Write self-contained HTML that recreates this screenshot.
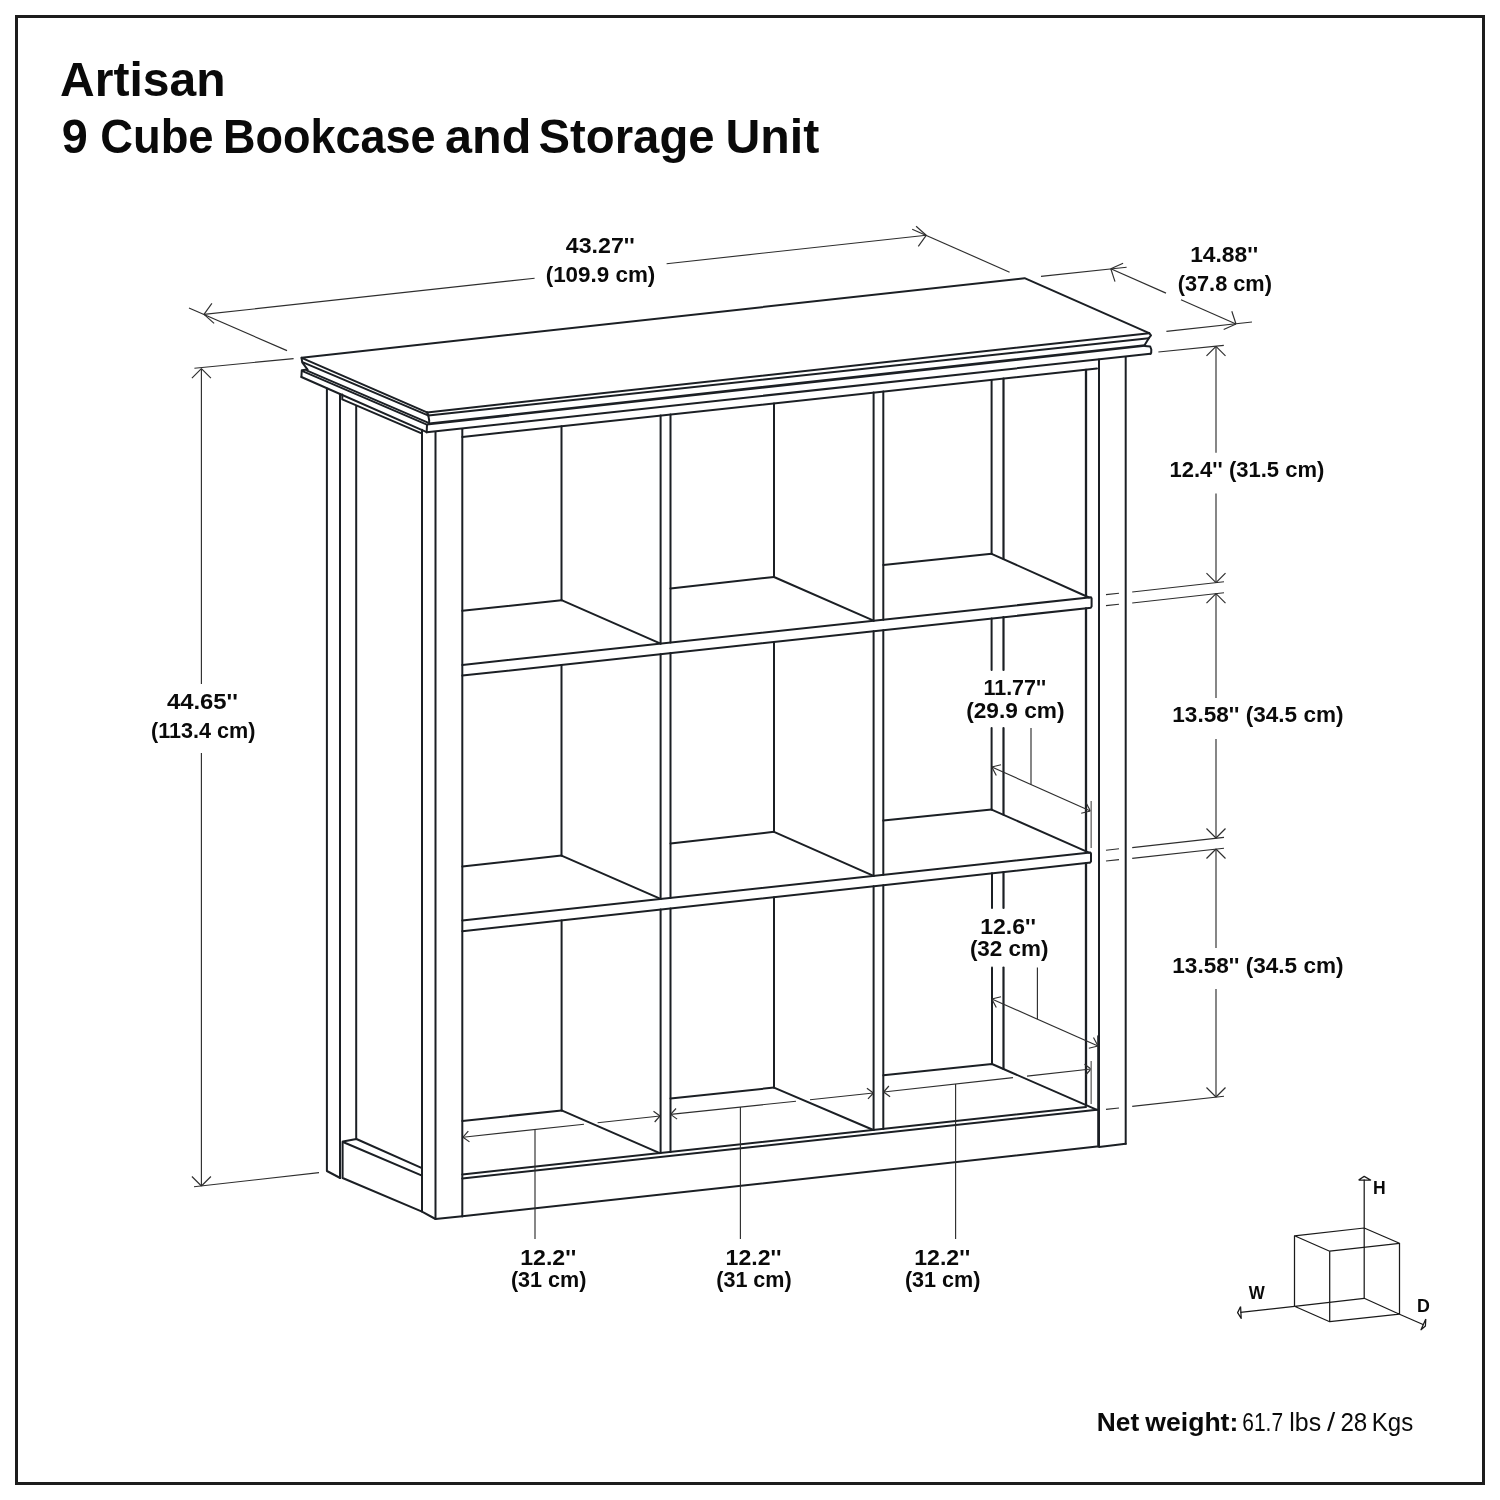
<!DOCTYPE html>
<html lang="en"><head><meta charset="utf-8"><title>Artisan 9 Cube Bookcase and Storage Unit</title>
<style>html,body{margin:0;padding:0;background:#fff}body{width:1500px;height:1500px;overflow:hidden}svg{display:block;will-change:transform}text{font-family:"Liberation Sans",Arial,sans-serif;fill:#0a0a0a}</style></head><body>
<svg width="1500" height="1500" viewBox="0 0 1500 1500">
<rect x="0" y="0" width="1500" height="1500" fill="#fff"/>
<rect x="16.5" y="16.5" width="1467" height="1467" fill="none" stroke="#1c1c1c" stroke-width="3"/>
<g fill="none" stroke="#1b1f24" stroke-width="2.0" stroke-linejoin="round" stroke-linecap="round">
<polyline points="427.0,412.4 301.6,357.8 1024.6,278.2 1149.2,333.2"/>
<polyline points="427.0,412.4 1149.2,333.2"/>
<polyline points="301.6,357.8 302.2,362.4 307.6,369.6"/>
<polyline points="307.2,369.6 301.8,370.2 301.4,377.0"/>
<polyline points="303.0,362.4 428.0,415.4"/>
<polyline points="306.5,370.4 427.4,422.4" stroke-width="1.8"/>
<polyline points="302.5,371.2 427.4,424.8" stroke-width="1.8"/>
<polyline points="301.4,377.0 426.7,432.2"/>
<polyline points="427.0,412.4 428.2,414.8 429.2,420.5 429.0,423.6 427.0,424.8 426.7,432.2"/>
<polyline points="428.3,415.5 1148.8,338.2"/>
<polyline points="429.0,423.9 1144.8,345.5" stroke-width="2.7"/>
<polyline points="426.7,432.2 1150.4,353.8"/>
<polyline points="1149.2,333.2 1151.0,335.4 1148.8,338.2 1144.8,344.8"/>
<polyline points="1144.8,345.9 1150.2,346.5 1151.3,349.5 1151.2,352.9 1150.4,353.8"/>
<polyline points="326.9,388.6 326.9,1171.0 340.2,1178.0"/>
<polyline points="340.0,394.3 340.0,1178.0"/>
<polyline points="356.2,406.4 356.2,1139.0"/>
<polyline points="342.3,394.6 342.3,399.4 421.6,433.3"/>
<polyline points="343.0,1141.6 356.4,1139.0 422.0,1168.1"/>
<polyline points="343.0,1142.0 422.0,1175.7"/>
<polyline points="342.6,1141.8 342.6,1178.0 422.0,1211.6"/>
<polyline points="422.0,429.8 422.0,1211.6 435.5,1219.0 462.3,1216.3"/>
<polyline points="435.5,432.0 435.5,1219.0"/>
<polyline points="462.3,429.3 462.3,1216.3"/>
<polyline points="1099.0,359.4 1099.0,1147.0 1125.7,1143.8"/>
<polyline points="1097.9,1036.0 1097.9,1146.8" stroke-width="1.4"/>
<polyline points="1125.7,357.0 1125.7,1143.8"/>
<polyline points="462.3,437.0 1097.0,368.5"/>
<polyline points="462.3,665.0 1091.0,597.3 1091.6,598.5 1091.6,606.5 1090.6,607.8 1089.0,608.0 462.3,675.6"/>
<polyline points="462.3,920.4 1090.4,852.4 1091.0,853.6 1091.0,861.4 1090.0,862.7 1088.5,862.8 462.3,931.2"/>
<polyline points="1086.0,369.8 1086.0,596.8" stroke-width="2.3"/>
<polyline points="1086.0,608.3 1086.0,851.9" stroke-width="2.3"/>
<polyline points="1086.0,863.1 1086.0,1105.6" stroke-width="2.3"/>
<polyline points="462.3,1174.4 1086.0,1107.0"/>
<polyline points="462.3,1178.4 1097.0,1109.8"/>
<polyline points="462.3,1216.3 1097.0,1146.6"/>
<polyline points="660.6,415.6 660.6,643.6"/>
<polyline points="660.6,654.2 660.6,898.9"/>
<polyline points="660.6,909.5 660.6,1153.0"/>
<polyline points="670.5,414.5 670.5,642.6"/>
<polyline points="670.5,653.1 670.5,897.9"/>
<polyline points="670.5,908.5 670.5,1151.9"/>
<polyline points="873.6,392.6 873.6,620.7"/>
<polyline points="873.6,631.2 873.6,875.9"/>
<polyline points="873.6,886.3 873.6,1130.0"/>
<polyline points="883.3,391.6 883.3,619.7"/>
<polyline points="883.3,630.2 883.3,874.8"/>
<polyline points="883.3,885.2 883.3,1128.9"/>
<polyline points="462.3,610.8 561.5,600.2"/>
<polyline points="561.5,600.2 660.6,643.6"/>
<polyline points="561.5,426.3 561.5,600.2"/>
<polyline points="670.5,588.4 774.0,577.0"/>
<polyline points="774.0,577.0 873.6,620.7"/>
<polyline points="774.0,403.4 774.0,577.0"/>
<polyline points="883.3,565.0 991.6,553.8"/>
<polyline points="991.6,553.8 1089.0,597.5"/>
<polyline points="991.6,379.9 991.6,553.8"/>
<polyline points="1003.5,378.6 1003.5,558.8" stroke-width="2.2"/>
<polyline points="462.3,866.4 561.5,855.6"/>
<polyline points="561.5,855.6 660.6,898.9"/>
<polyline points="561.5,664.9 561.5,855.6"/>
<polyline points="670.5,843.4 774.0,831.8"/>
<polyline points="774.0,831.8 873.6,875.9"/>
<polyline points="774.0,642.0 774.0,831.8"/>
<polyline points="883.3,820.6 991.6,809.6"/>
<polyline points="991.6,809.6 1089.0,852.6"/>
<polyline points="991.6,618.5 991.6,670.0"/>
<polyline points="991.6,728.0 991.6,809.6"/>
<polyline points="1003.5,617.2 1003.5,670.0" stroke-width="2.2"/>
<polyline points="1003.5,728.0 1003.5,814.6" stroke-width="2.2"/>
<polyline points="462.3,1121.0 561.6,1110.4"/>
<polyline points="561.6,1110.4 659.8,1153.1"/>
<polyline points="561.6,920.4 561.6,1110.4"/>
<polyline points="670.5,1098.4 774.0,1087.6"/>
<polyline points="774.0,1087.6 873.4,1130.0"/>
<polyline points="774.0,897.2 774.0,1087.6"/>
<polyline points="883.4,1075.3 992.0,1064.0 1097.0,1109.8"/>
<polyline points="992.0,873.3 992.0,908.0"/>
<polyline points="992.0,967.6 992.0,1064.0"/>
<polyline points="1003.5,872.1 1003.5,908.0" stroke-width="2.2"/>
<polyline points="1003.5,967.6 1003.5,1069.0" stroke-width="2.2"/>
</g>
<g fill="none" stroke="#2e2e2e" stroke-width="1.15" stroke-linecap="butt">
<polyline points="204.0,314.4 534.6,278.2"/>
<polyline points="666.6,263.7 926.2,235.3"/>
<polyline points="204.0,314.4 214.1,323.4"/>
<polyline points="204.0,314.4 211.9,303.4"/>
<polyline points="926.2,235.3 916.1,226.3"/>
<polyline points="926.2,235.3 918.3,246.3"/>
<polyline points="189.0,308.0 287.0,350.6"/>
<polyline points="912.2,229.2 1009.6,272.2"/>
<polyline points="1110.8,268.8 1166.0,293.1"/>
<polyline points="1181.0,299.8 1236.0,324.0"/>
<polyline points="1110.8,268.8 1115.0,281.6"/>
<polyline points="1110.8,268.8 1123.1,263.3"/>
<polyline points="1236.0,324.0 1231.8,311.2"/>
<polyline points="1236.0,324.0 1223.7,329.5"/>
<polyline points="1041.0,276.4 1126.6,267.2"/>
<polyline points="1166.4,331.4 1252.0,322.0"/>
<polyline points="201.4,368.6 201.4,684.0"/>
<polyline points="201.4,753.0 201.4,1186.0"/>
<polyline points="201.4,368.6 191.9,378.1"/>
<polyline points="201.4,368.6 210.9,378.1"/>
<polyline points="201.4,1186.0 210.9,1176.5"/>
<polyline points="201.4,1186.0 191.9,1176.5"/>
<polyline points="194.4,368.2 293.6,358.6"/>
<polyline points="194.0,1186.8 319.0,1172.6"/>
<polyline points="1158.4,352.0 1223.8,345.4"/>
<polyline points="1216.0,346.4 1216.0,452.8"/>
<polyline points="1216.0,493.6 1216.0,582.6"/>
<polyline points="1216.0,593.6 1216.0,698.0"/>
<polyline points="1216.0,739.0 1216.0,838.0"/>
<polyline points="1216.0,849.0 1216.0,948.0"/>
<polyline points="1216.0,989.0 1216.0,1097.0"/>
<polyline points="1216.0,346.4 1206.5,355.9"/>
<polyline points="1216.0,346.4 1225.5,355.9"/>
<polyline points="1216.0,582.6 1225.5,573.1"/>
<polyline points="1216.0,582.6 1206.5,573.1"/>
<polyline points="1216.0,593.6 1206.5,603.1"/>
<polyline points="1216.0,593.6 1225.5,603.1"/>
<polyline points="1216.0,838.0 1225.5,828.5"/>
<polyline points="1216.0,838.0 1206.5,828.5"/>
<polyline points="1216.0,849.0 1206.5,858.5"/>
<polyline points="1216.0,849.0 1225.5,858.5"/>
<polyline points="1216.0,1097.0 1225.5,1087.5"/>
<polyline points="1216.0,1097.0 1206.5,1087.5"/>
<polyline points="1132.2,592.0 1224.0,581.8"/>
<polyline points="1132.2,603.0 1224.0,592.8"/>
<polyline points="1132.2,847.6 1224.0,837.4"/>
<polyline points="1132.2,858.4 1224.0,848.2"/>
<polyline points="1132.2,1106.4 1224.0,1096.2"/>
<polyline points="1106.0,594.6 1119.0,593.2"/>
<polyline points="1106.0,605.6 1119.0,604.2"/>
<polyline points="1106.0,850.2 1119.0,848.8"/>
<polyline points="1106.0,861.0 1119.0,859.6"/>
<polyline points="1106.0,1109.4 1119.0,1108.0"/>
<polyline points="991.8,767.0 1090.4,811.0"/>
<polyline points="991.8,767.0 996.3,775.4"/>
<polyline points="991.8,767.0 1001.0,764.7"/>
<polyline points="1090.4,811.0 1085.9,802.6"/>
<polyline points="1090.4,811.0 1081.2,813.3"/>
<polyline points="1031.0,728.0 1031.0,784.4"/>
<polyline points="991.8,999.0 1098.0,1046.0"/>
<polyline points="991.8,999.0 996.3,1007.4"/>
<polyline points="991.8,999.0 1001.0,996.7"/>
<polyline points="1098.0,1046.0 1093.5,1037.6"/>
<polyline points="1098.0,1046.0 1088.8,1048.3"/>
<polyline points="1037.4,967.6 1037.4,1019.0"/>
<polyline points="463.0,1137.2 584.0,1124.2"/>
<polyline points="597.6,1122.7 660.0,1116.0"/>
<polyline points="463.0,1137.2 469.5,1141.9"/>
<polyline points="463.0,1137.2 468.3,1131.2"/>
<polyline points="660.0,1116.0 653.5,1111.3"/>
<polyline points="660.0,1116.0 654.7,1122.0"/>
<polyline points="535.0,1129.5 535.0,1239.0"/>
<polyline points="670.6,1114.4 796.0,1101.2"/>
<polyline points="810.0,1099.7 873.4,1093.0"/>
<polyline points="670.6,1114.4 677.1,1119.1"/>
<polyline points="670.6,1114.4 676.0,1108.5"/>
<polyline points="873.4,1093.0 866.9,1088.3"/>
<polyline points="873.4,1093.0 868.0,1098.9"/>
<polyline points="740.4,1107.0 740.4,1239.0"/>
<polyline points="883.6,1092.0 1013.0,1077.6"/>
<polyline points="1027.0,1076.1 1091.0,1069.0"/>
<polyline points="883.6,1092.0 890.1,1096.7"/>
<polyline points="883.6,1092.0 888.9,1086.0"/>
<polyline points="1091.0,1069.0 1084.5,1064.3"/>
<polyline points="1091.0,1069.0 1085.7,1075.0"/>
<polyline points="955.6,1084.0 955.6,1239.0"/>
</g>
<g fill="none" stroke="#808080" stroke-width="1.6">
<polyline points="1091.2,801.0 1091.2,848.0"/>
<polyline points="1091.2,1061.0 1091.2,1104.0"/>
</g>
<g fill="none" stroke="#1a1a1a" stroke-width="1.25" stroke-linejoin="round">
<polyline points="1364.2,1228.0 1294.5,1235.8 1329.7,1251.2 1399.5,1243.3 1364.2,1228.0"/>
<polyline points="1364.2,1298.3 1294.5,1306.3 1329.7,1321.7 1399.5,1314.2 1364.2,1298.3"/>
<polyline points="1294.5,1235.8 1294.5,1306.3"/>
<polyline points="1329.7,1251.2 1329.7,1321.7"/>
<polyline points="1399.5,1243.3 1399.5,1314.2"/>
<polyline points="1364.2,1298.3 1364.2,1179.4"/>
<polyline points="1358.6,1180.0 1364.2,1176.4 1370.6,1180.0 1358.6,1180.0"/>
<polyline points="1294.5,1306.3 1240.4,1312.4"/>
<polyline points="1240.6,1306.6 1237.6,1312.6 1241.2,1318.4 1240.6,1306.6"/>
<polyline points="1399.5,1314.2 1423.6,1324.8"/>
<polyline points="1425.8,1319.0 1421.0,1329.8 1425.4,1326.0 1425.8,1319.0"/>
</g>
<g>
<text x="60.10" y="95.9" font-size="48.0" font-weight="700" textLength="165.40" lengthAdjust="spacingAndGlyphs">Artisan</text>
<text x="61.66" y="152.5" font-size="48.0" font-weight="700" textLength="26.03" lengthAdjust="spacingAndGlyphs">9</text>
<text x="100.19" y="152.5" font-size="48.0" font-weight="700" textLength="113.39" lengthAdjust="spacingAndGlyphs">Cube</text>
<text x="222.96" y="152.5" font-size="48.0" font-weight="700" textLength="212.60" lengthAdjust="spacingAndGlyphs">Bookcase</text>
<text x="445.05" y="152.5" font-size="48.0" font-weight="700" textLength="86.23" lengthAdjust="spacingAndGlyphs">and</text>
<text x="538.58" y="152.5" font-size="48.0" font-weight="700" textLength="175.99" lengthAdjust="spacingAndGlyphs">Storage</text>
<text x="725.51" y="152.5" font-size="48.0" font-weight="700" textLength="93.76" lengthAdjust="spacingAndGlyphs">Unit</text>
<text x="565.85" y="252.7" font-size="22.8" font-weight="700" textLength="68.98" lengthAdjust="spacingAndGlyphs">43.27''</text>
<text x="545.68" y="281.6" font-size="22.8" font-weight="700" textLength="109.62" lengthAdjust="spacingAndGlyphs">(109.9 cm)</text>
<text x="1190.17" y="261.9" font-size="22.8" font-weight="700" textLength="67.94" lengthAdjust="spacingAndGlyphs">14.88''</text>
<text x="1177.71" y="290.5" font-size="22.8" font-weight="700" textLength="94.19" lengthAdjust="spacingAndGlyphs">(37.8 cm)</text>
<text x="166.94" y="708.8" font-size="22.8" font-weight="700" textLength="71.03" lengthAdjust="spacingAndGlyphs">44.65''</text>
<text x="151.02" y="737.7" font-size="22.8" font-weight="700" textLength="104.50" lengthAdjust="spacingAndGlyphs">(113.4 cm)</text>
<text x="1169.52" y="477.4" font-size="22.8" font-weight="700" textLength="154.78" lengthAdjust="spacingAndGlyphs">12.4'' (31.5 cm)</text>
<text x="1172.29" y="722.3" font-size="22.8" font-weight="700" textLength="171.27" lengthAdjust="spacingAndGlyphs">13.58'' (34.5 cm)</text>
<text x="1172.29" y="972.5" font-size="22.8" font-weight="700" textLength="171.27" lengthAdjust="spacingAndGlyphs">13.58'' (34.5 cm)</text>
<text x="983.46" y="694.7" font-size="22.8" font-weight="700" textLength="62.78" lengthAdjust="spacingAndGlyphs">11.77''</text>
<text x="966.17" y="717.9" font-size="22.8" font-weight="700" textLength="98.38" lengthAdjust="spacingAndGlyphs">(29.9 cm)</text>
<text x="980.26" y="933.8" font-size="22.8" font-weight="700" textLength="55.63" lengthAdjust="spacingAndGlyphs">12.6''</text>
<text x="969.88" y="955.8" font-size="22.8" font-weight="700" textLength="78.58" lengthAdjust="spacingAndGlyphs">(32 cm)</text>
<text x="520.26" y="1264.7" font-size="22.8" font-weight="700" textLength="55.94" lengthAdjust="spacingAndGlyphs">12.2''</text>
<text x="510.92" y="1286.7" font-size="22.8" font-weight="700" textLength="75.49" lengthAdjust="spacingAndGlyphs">(31 cm)</text>
<text x="725.56" y="1264.7" font-size="22.8" font-weight="700" textLength="55.94" lengthAdjust="spacingAndGlyphs">12.2''</text>
<text x="716.22" y="1286.7" font-size="22.8" font-weight="700" textLength="75.49" lengthAdjust="spacingAndGlyphs">(31 cm)</text>
<text x="914.26" y="1264.7" font-size="22.8" font-weight="700" textLength="55.94" lengthAdjust="spacingAndGlyphs">12.2''</text>
<text x="904.92" y="1286.7" font-size="22.8" font-weight="700" textLength="75.49" lengthAdjust="spacingAndGlyphs">(31 cm)</text>
<text x="1373.02" y="1193.8" font-size="18.3" font-weight="700" textLength="12.66" lengthAdjust="spacingAndGlyphs">H</text>
<text x="1248.70" y="1299.0" font-size="18.3" font-weight="700" textLength="16.02" lengthAdjust="spacingAndGlyphs">W</text>
<text x="1417.10" y="1311.5" font-size="18.3" font-weight="700" textLength="12.85" lengthAdjust="spacingAndGlyphs">D</text>
<text x="1096.82" y="1430.8" font-size="25.0" font-weight="700" textLength="42.44" lengthAdjust="spacingAndGlyphs">Net</text>
<text x="1145.37" y="1430.8" font-size="25.0" font-weight="700" textLength="92.95" lengthAdjust="spacingAndGlyphs">weight:</text>
<text x="1242.35" y="1430.8" font-size="25.0" font-weight="400" textLength="40.72" lengthAdjust="spacingAndGlyphs">61.7</text>
<text x="1289.32" y="1430.8" font-size="25.0" font-weight="400" textLength="31.88" lengthAdjust="spacingAndGlyphs">lbs</text>
<text x="1326.90" y="1430.8" font-size="25.0" font-weight="400" textLength="8.21" lengthAdjust="spacingAndGlyphs">/</text>
<text x="1340.39" y="1430.8" font-size="25.0" font-weight="400" textLength="26.89" lengthAdjust="spacingAndGlyphs">28</text>
<text x="1371.82" y="1430.8" font-size="25.0" font-weight="400" textLength="41.44" lengthAdjust="spacingAndGlyphs">Kgs</text>
</g>
</svg></body></html>
